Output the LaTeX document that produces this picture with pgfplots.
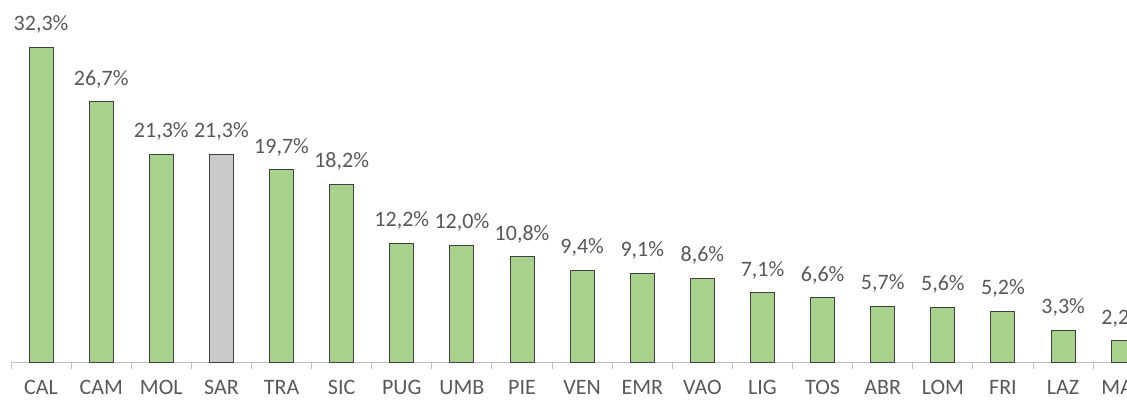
\documentclass[border=0pt]{standalone}
\usepackage{fontspec}
\setmainfont{Carlito}
\usepackage{pgfplots}
\pgfplotsset{compat=1.18}
\definecolor{barg}{HTML}{A9D18E}
\definecolor{barx}{HTML}{C9C9C9}
\definecolor{edge}{HTML}{404040}
\definecolor{txt}{HTML}{595959}
\definecolor{axl}{HTML}{BFBFBF}
\begin{document}
\begin{tikzpicture}
\path[use as bounding box, clip] (0,0) rectangle (845.25pt,300pt);
\begin{axis}[
  at={(8.25pt,28.3pt)}, anchor=south west,
  x=45.09pt, y=7.32pt,
  xmin=-0.5, xmax=20, ymin=0, ymax=38,
  ybar, bar width=18pt, bar shift=0pt,
  axis x line=bottom, axis y line=none,
  axis line style={axl, line width=0.75pt, -},
  xtick={0,...,18},
  xticklabels={CAL,CAM,MOL,SAR,TRA,SIC,PUG,UMB,PIE,VEN,EMR,VAO,LIG,TOS,ABR,LOM,FRI,LAZ,MAR},
  major tick length=0pt,
  minor xtick={-0.5,0.5,...,19.5},
  minor tick length=5pt,
  tick align=outside,
  minor tick style={axl, line width=0.75pt},
  xticklabel style={font=\fontsize{16.5pt}{19pt}\selectfont, text=txt, anchor=base, yshift=-24.5pt, inner sep=0pt},
  /pgf/number format/assume math mode=true,
  nodes near coords={\pgfmathprintnumber[fixed,fixed zerofill,precision=1,use comma]{\pgfplotspointmeta}\%},
  every node near coord/.append style={font=\fontsize{16.5pt}{19pt}\selectfont, text=txt, anchor=base, inner sep=0pt, yshift=12.5pt},
  clip=false,
]
\addplot[fill=barg, draw=edge, line width=0.75pt] coordinates {
(0,32.3) (1,26.7) (2,21.3) (4,19.7) (5,18.2) (6,12.2) (7,12.0) (8,10.8) (9,9.4) (10,9.1) (11,8.6) (12,7.1) (13,6.6) (14,5.7) (15,5.6) (16,5.2) (17,3.3) (18,2.2)};
\addplot[fill=barx, draw=edge, line width=0.75pt] coordinates {(3,21.3)};
\end{axis}
\end{tikzpicture}
\end{document}
